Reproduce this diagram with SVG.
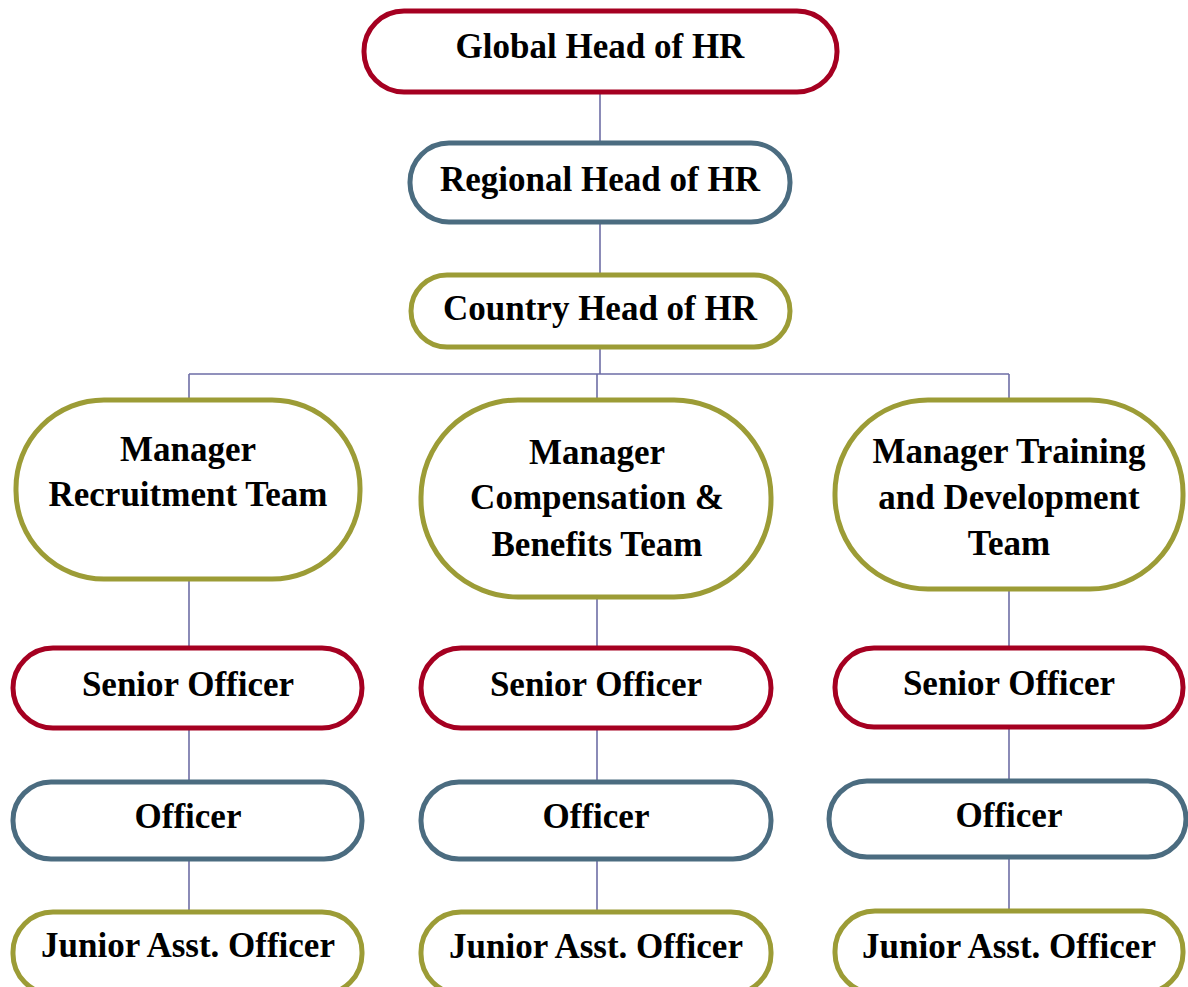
<svg xmlns="http://www.w3.org/2000/svg" width="1188" height="987" viewBox="0 0 1188 987">
<style>
.n{fill:#fff;stroke-width:5}
.r{stroke:#A50021}
.b{stroke:#4B6C80}
.o{stroke:#9C9C36}
.t{font-family:"Liberation Serif","Times New Roman",serif;font-weight:bold;font-size:35px;fill:#000;text-anchor:middle}
.c{stroke:#6E6EA6;stroke-width:1.6;fill:none}
</style>
<rect width="1188" height="987" fill="#fff"/>
<g id="connectors">
<path class="c" d="M600 92V143M600 222V275M600 347V374M189 374H1009M189 374V400M597 374V400M1009 374V400"/>
<path class="c" d="M189 579V648M189 728V782M189 859V912"/>
<path class="c" d="M597 597V648M597 728V782M597 859V912"/>
<path class="c" d="M1009 589V648M1009 727V781M1009 857V911"/>
</g>
<g id="global"><rect class="n r" x="364" y="11" width="473" height="81" rx="40"/><text class="t" x="600" y="58">Global Head of HR</text></g>
<g id="regional"><rect class="n b" x="410" y="143" width="380" height="79" rx="39"/><text class="t" x="600" y="191">Regional Head of HR</text></g>
<g id="country"><rect class="n o" x="411" y="275" width="379" height="72" rx="36"/><text class="t" x="600" y="320">Country Head of HR</text></g>
<g id="mgr-recruitment"><rect class="n o" x="16" y="400" width="344" height="179" rx="88"/><text class="t" x="188" y="461">Manager</text><text class="t" x="188" y="506">Recruitment Team</text></g>
<g id="mgr-compensation"><rect class="n o" x="421" y="400" width="350" height="197" rx="97"/><text class="t" x="597" y="464">Manager</text><text class="t" x="597" y="509">Compensation &amp;</text><text class="t" x="597" y="556">Benefits Team</text></g>
<g id="mgr-training"><rect class="n o" x="835" y="400" width="348" height="189" rx="93"/><text class="t" x="1009" y="463">Manager Training</text><text class="t" x="1009" y="509">and Development</text><text class="t" x="1009" y="555">Team</text></g>
<g id="senior-1"><rect class="n r" x="13" y="648" width="349" height="80" rx="40"/><text class="t" x="188" y="696">Senior Officer</text></g>
<g id="senior-2"><rect class="n r" x="421" y="648" width="350" height="80" rx="40"/><text class="t" x="596" y="696">Senior Officer</text></g>
<g id="senior-3"><rect class="n r" x="835" y="648" width="348" height="79" rx="39"/><text class="t" x="1009" y="695">Senior Officer</text></g>
<g id="officer-1"><rect class="n b" x="13" y="782" width="349" height="77" rx="38"/><text class="t" x="188" y="828">Officer</text></g>
<g id="officer-2"><rect class="n b" x="421" y="782" width="350" height="77" rx="38"/><text class="t" x="596" y="828">Officer</text></g>
<g id="officer-3"><rect class="n b" x="829" y="781" width="357" height="76" rx="38"/><text class="t" x="1009" y="827">Officer</text></g>
<g id="junior-1"><rect class="n o" x="13" y="912" width="349" height="82" rx="40"/><text class="t" x="188" y="957">Junior Asst. Officer</text></g>
<g id="junior-2"><rect class="n o" x="421" y="912" width="350" height="82" rx="40"/><text class="t" x="596" y="958">Junior Asst. Officer</text></g>
<g id="junior-3"><rect class="n o" x="835" y="911" width="348" height="82" rx="40"/><text class="t" x="1009" y="958">Junior Asst. Officer</text></g>
</svg>
